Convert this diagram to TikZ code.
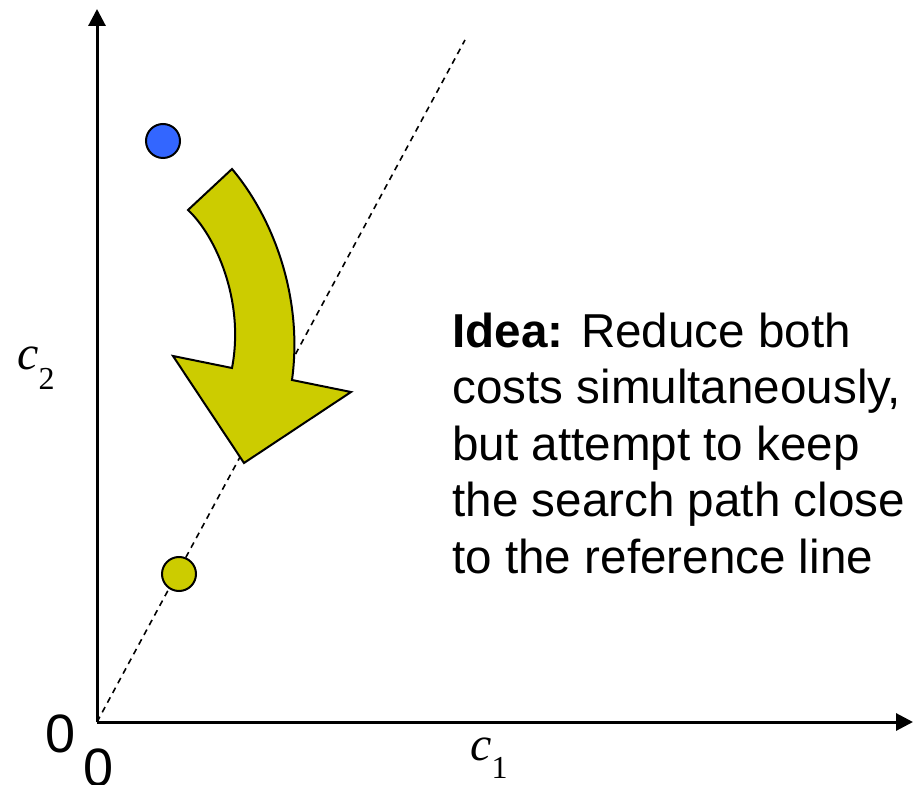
\documentclass[tikz,border=0pt]{standalone}
\usepackage{fontspec}
\setmainfont{Liberation Sans}
\newfontfamily\tmsfont{Liberation Serif}
\usetikzlibrary{arrows.meta}
\definecolor{dotblue}{RGB}{51,102,255}
\definecolor{olive}{RGB}{204,204,0}
\begin{document}
\begin{tikzpicture}[x=0.5pt,y=-0.5pt,
  axis/.style={line width=1.5pt,-{Triangle[length=8.5pt,width=8.5pt]}},
  refline/.style={line width=0.8pt,dash pattern=on 3pt off 2.5pt},
  dot/.style={circle,draw=black,line width=1pt,minimum size=17pt,inner sep=0pt},
  bigarrow/.style={draw=black,line width=1pt,fill=olive,line join=miter},
  axlabel/.style={inner sep=0pt,anchor=base west,font=\tmsfont\fontsize{24}{28}\selectfont\itshape},
  zero/.style={inner sep=0pt,anchor=base,font=\fontsize{27}{32}\selectfont},
  idea/.style={inner sep=0pt,anchor=base west,align=left,font=\fontsize{23.8}{28.25}\selectfont}]
\useasboundingbox (0,0) rectangle (914,785);

% axes
\coordinate (origin) at (97,722);
\coordinate (xend) at (913,722);
\coordinate (yend) at (97,9);
\coordinate (refend) at (465,40);
\draw[axis] (origin) -- (xend);
\draw[axis] (origin) -- (yend);

% reference line
\draw[refline] (origin) -- (refend);

% curved arrow
\path[bigarrow] (232,169) -- (188,210)
  .. controls (215,235) and (245,300) .. (232,368)
  -- (173,356) -- (244,463) -- (351,392) -- (292,380)
  .. controls (303,300) and (275,220) .. (232,169) -- cycle;

% start and end points
\node[dot,fill=dotblue] (start) at (163,141) {};
\node[dot,fill=olive] (goal) at (179,574) {};

% labels
\node[axlabel] (ctwo) at (17,370) {c\raisebox{-10pt}{\upshape\fontsize{16}{18}\selectfont 2}};
\node[axlabel] (cone) at (470,760) {c\raisebox{-9pt}{\upshape\fontsize{16}{18}\selectfont 1}};
\node[zero] (zeroy) at (60.5,752) {0};
\node[zero] (zerox) at (99,786) {0};

% the last line's baseline is the node's base
\node[idea] (idea) at (452,573) {\textbf{Idea:} Reduce both\\costs simultaneously,\\but attempt to keep\\the search path close\\to the reference line};
\end{tikzpicture}
\end{document}
